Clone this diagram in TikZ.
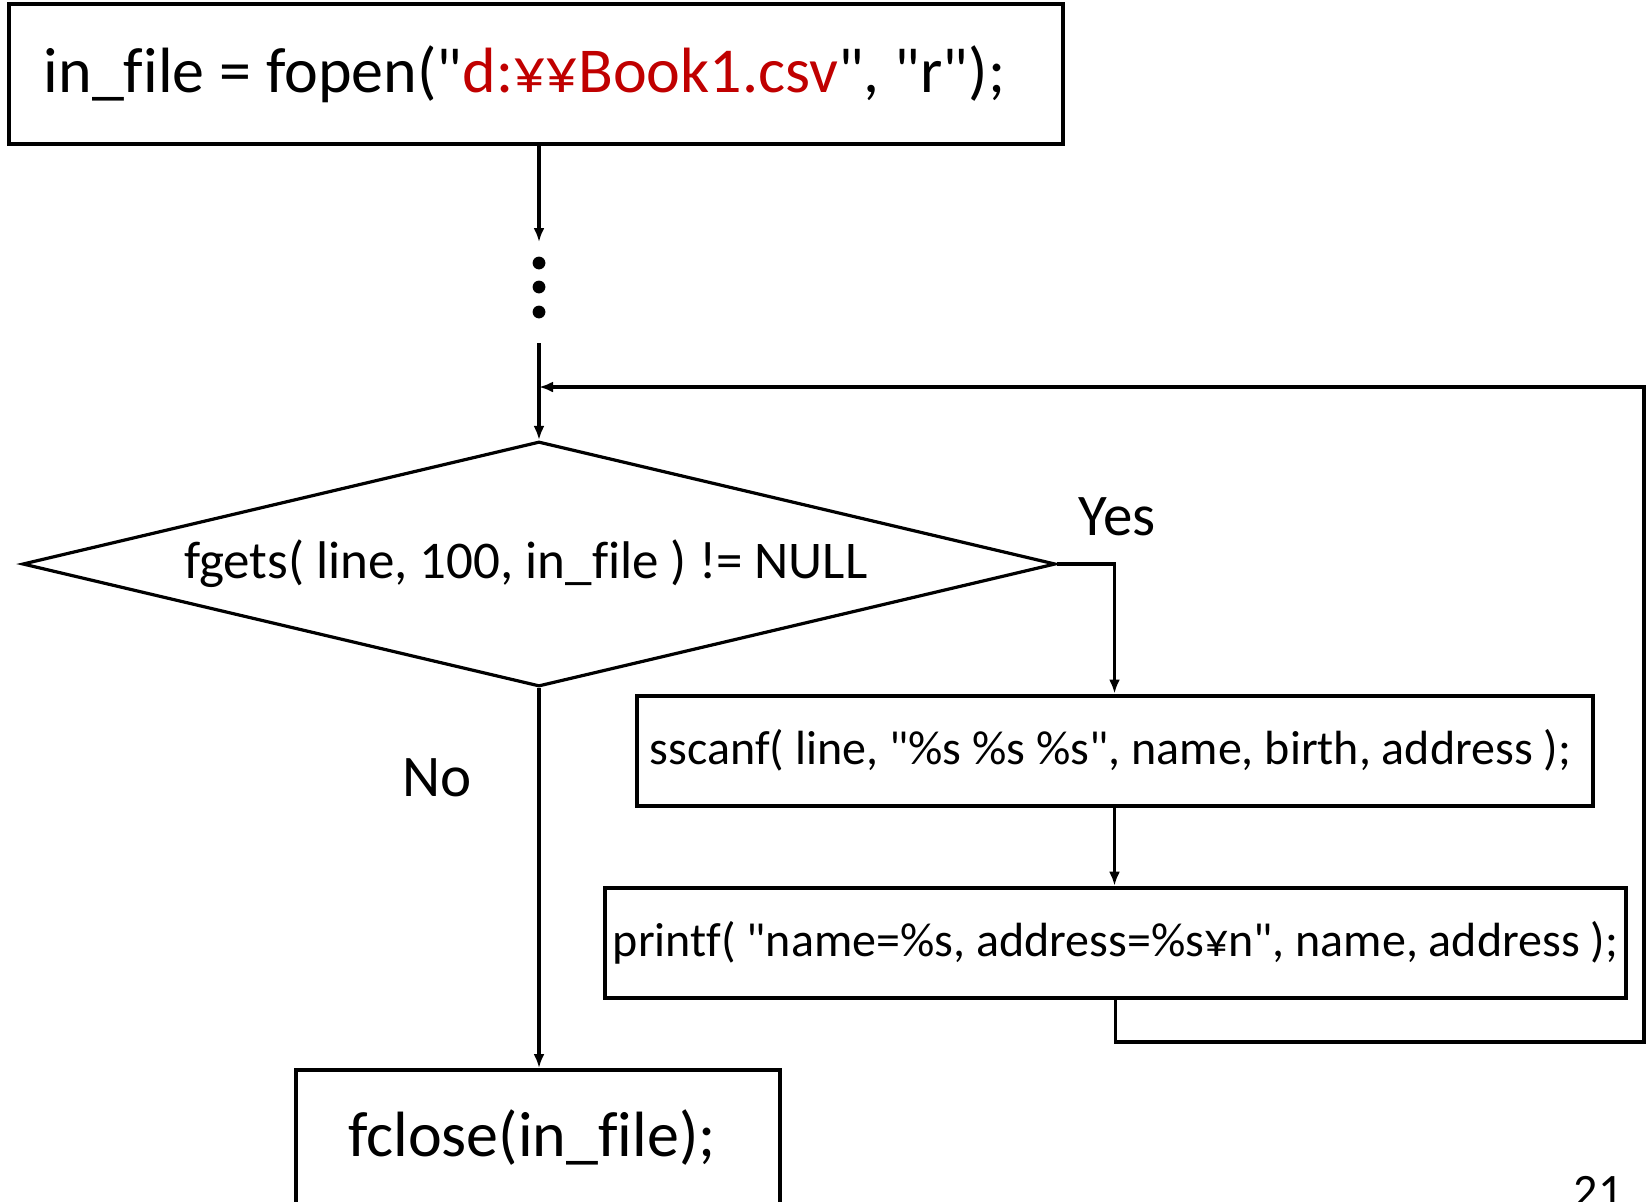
\documentclass[tikz,border=0pt]{standalone}
\usepackage{fontspec}
\setmainfont{Carlito}[Ligatures={TeXOff,CommonOff}]
\usetikzlibrary{shapes.geometric,arrows.meta}

\definecolor{pathred}{HTML}{C00000}

\tikzset{
  box/.style={draw, line width=2pt, inner sep=0pt, minimum height=55pt, font=\fontsize{24}{28}\selectfont},
  decision/.style={draw, diamond, line width=1.6pt, aspect=4.2, inner sep=0pt, minimum width=516.5pt, minimum height=122.5pt, font=\fontsize{26.5}{30}\selectfont},
  flow/.style={line width=1.6pt, -{Latex[length=7pt,width=5.5pt]}},
  answer/.style={font=\fontsize{29.5}{34}\selectfont}
}

\begin{document}
\begin{tikzpicture}[x=0.5pt,y=-0.5pt]

\clip (0,0) rectangle (1647,1201);

% Boxes

\node [box, minimum height=70pt, inner xsep=17.25pt, text width=492.25pt, align=left, font=\fontsize{32}{36}\selectfont] (fopen) at (536,74) {\spaceskip=7.5pt\relax\raisebox{-2pt}{in\_file = fopen("\textcolor{pathred}{d:¥¥Book1.csv}", "r");}};

\node [decision] (cond) at (539,564) {fgets( line, 100, in\_file ) != NULL\hspace*{13pt}};

\node [box, minimum width=478pt] (sscanf) at (1114.5,750.5) {sscanf( line, "\%s \%s \%s", name, birth, address );\hspace*{4pt}};

\node [box, minimum width=510.5pt] (printf) at (1115.5,942.7) {printf( "name=\%s, address=\%s¥n", name, address );};

\node [box, minimum width=242.25pt, minimum height=67.6pt, font=\fontsize{32}{36}\selectfont] (fclose) at (538,1137.6) {fclose(in\_file);\hspace*{6pt}};

%Dots
\coordinate (skip) at (539,242);
\coordinate (resume) at (539,343);
\coordinate (join) at (539,387);
\coordinate (back) at (1644,1042);

\foreach \y in {263,287,312}
  \fill (539,\y) circle [radius=3.2pt];

%Arrows
\draw [flow] (fopen.south -| skip) -- (skip);
\draw [flow] (resume) -- (cond.north);
\draw [flow] (cond.east) -| (sscanf.north);
\draw [flow] (sscanf.south) -- (sscanf.south |- printf.north);
\draw [flow] (printf.south) |- (back) |- (join);
\draw [flow] (cond.south) -- (cond.south |- fclose.north);

\node [answer] (yes) at (1117,517) {Yes};
\node [answer] (no) at (437,778) {No};
\node [anchor=base, font=\fontsize{24}{28}\selectfont] (page) at (1598,1207) {21};
\end{tikzpicture}
\end{document}
